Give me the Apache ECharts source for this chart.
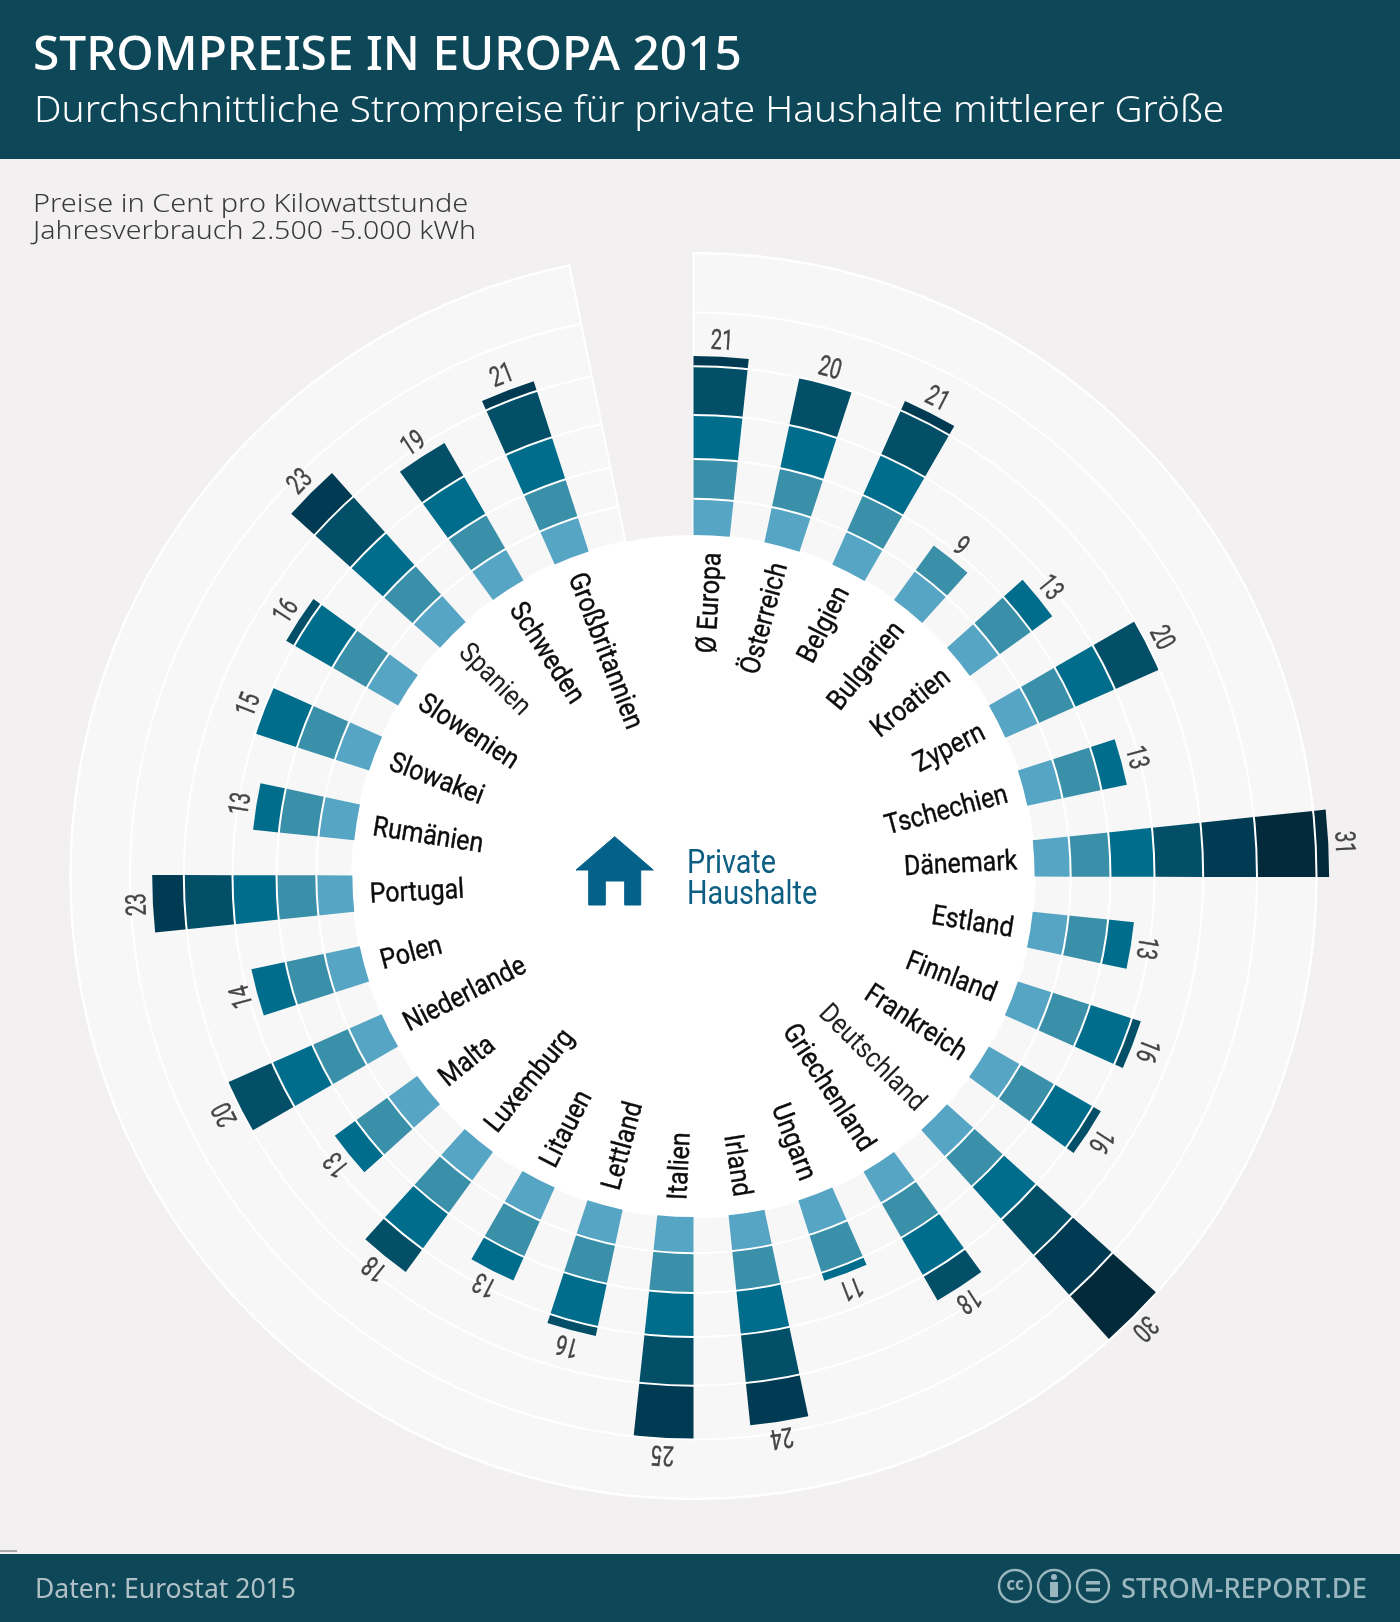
<!DOCTYPE html>
<html lang="de">
<head>
<meta charset="utf-8">
<title>Strompreise in Europa 2015</title>
<style>
  html, body { margin: 0; padding: 0; background: #f2f0f1; }
  #chart { width: 1400px; height: 1622px; }
</style>
<script src="https://cdn.jsdelivr.net/npm/echarts@6/dist/echarts.min.js"></script>
</head>
<body>
<div id="chart"></div>
<script>
// Haushaltsstrompreise in Cent pro kWh
const countries = ['Ø Europa', 'Österreich', 'Belgien', 'Bulgarien', 'Kroatien', 'Zypern', 'Tschechien',
  'Dänemark', 'Estland', 'Finnland', 'Frankreich', 'Deutschland', 'Griechenland', 'Ungarn', 'Irland',
  'Italien', 'Lettland', 'Litauen', 'Luxemburg', 'Malta', 'Niederlande', 'Polen', 'Portugal', 'Rumänien',
  'Slowakei', 'Slowenien', 'Spanien', 'Schweden', 'Großbritannien'];
const prices = [21, 20, 21, 9, 13, 20, 13, 31, 13, 16, 16, 30, 18, 11, 24, 25, 16, 13, 18, 13, 20, 14, 23, 13, 15, 16, 23, 19, 21];
const thinLabels = ['Spanien', 'Deutschland'];
const ringValues = [5, 10, 15, 20, 25, 30];
const bandColors = ['#56a5c4', '#3a8fa9', '#006d8c', '#034f68', '#003b53', '#022a3b', '#022a3b'];

const BAND = 5;            // Cent je Farbstufe
const GROWTH = 1.1056;     // Radius-Faktor je Farbstufe
const SLOT = 12;           // Grad je Land
const BAR_SWEEP = 6.1;     // Grad je Balken
const TRACK_END = 348.5;   // Ende des hinterlegten Kreissegments
const TRACK_TOP = 30;      // Cent am Aussenrand

const INK = 'Roboto, sans-serif';
const SANS = '"Noto Sans", sans-serif';

// Exponentielle Radialskala: gleiche Cent-Abstaende ergeben gleiche Radiusverhaeltnisse
const radial = cents => Math.pow(GROWTH, cents / BAND);

const segments = [];
prices.forEach((price, i) => {
  for (let from = 0, band = 0; from < price; from += BAND, band++) {
    segments.push([i, from, Math.min(from + BAND, price), band]);
  }
});

function sector(api, fromCents, toCents, fromDeg, toDeg, style) {
  const inner = api.coord([radial(fromCents), fromDeg]);
  const outer = api.coord([radial(toCents), toDeg]);
  const sys = api.coord([0, 0]);
  return {
    type: 'sector',
    shape: { cx: sys[0], cy: sys[1], r0: inner[2], r: outer[2],
             startAngle: -inner[3], endAngle: -outer[3], clockwise: true },
    style
  };
}

function polarText(api, cents, deg, offset, text, style, rotationDeg, scaleX) {
  const p = api.coord([radial(cents), deg]);
  const sys = api.coord([0, 0]);
  const r = p[2] + offset;
  const a = p[3];
  return {
    type: 'text',
    x: sys[0] + r * Math.cos(a),
    y: sys[1] - r * Math.sin(a),
    rotation: rotationDeg * Math.PI / 180,
    scaleX,
    style: Object.assign({ text }, style)
  };
}

const series = [
  {
    name: 'Hintergrund', type: 'custom', coordinateSystem: 'polar', silent: true, data: [[0, 0]],
    renderItem: (params, api) => sector(api, 0, TRACK_TOP, 0, TRACK_END,
      { fill: '#f7f7f7', stroke: '#ffffff', lineWidth: 2 })
  },
  {
    name: 'Scheibe', type: 'custom', coordinateSystem: 'polar', silent: true, data: [[0, 0]],
    renderItem: (params, api) => {
      const edge = api.coord([radial(0), 0]);
      const sys = api.coord([0, 0]);
      return { type: 'circle', shape: { cx: sys[0], cy: sys[1], r: edge[2] }, style: { fill: '#ffffff' } };
    }
  },
  {
    name: 'Preise', type: 'custom', coordinateSystem: 'polar', silent: true, data: segments,
    renderItem: (params, api) => {
      const start = api.value(0) * SLOT;
      return sector(api, api.value(1), api.value(2), start, start + BAR_SWEEP,
        { fill: bandColors[api.value(3)] });
    }
  },
  {
    name: 'Ringe', type: 'custom', coordinateSystem: 'polar', silent: true, data: ringValues.map(v => [v, 0]),
    renderItem: (params, api) => {
      const a = api.coord([radial(api.value(0)), 0]);
      const b = api.coord([radial(api.value(0)), TRACK_END]);
      const sys = api.coord([0, 0]);
      return {
        type: 'arc',
        shape: { cx: sys[0], cy: sys[1], r: a[2], startAngle: -a[3], endAngle: -b[3], clockwise: true },
        style: { stroke: '#ffffff', lineWidth: 2, fill: null }
      };
    }
  },
  {
    name: 'Laender', type: 'custom', coordinateSystem: 'polar', silent: true,
    data: countries.map((c, i) => [i, 0]),
    renderItem: (params, api) => {
      const i = params.dataIndex;
      const deg = i * SLOT + BAR_SWEEP / 2;
      const right = deg < 180;
      const thin = thinLabels.includes(countries[i]);
      return polarText(api, 0, deg, -17, countries[i], {
        font: '28px ' + INK,
        fill: thin ? '#222222' : '#0c0c0c',
        stroke: thin ? null : '#0c0c0c',
        lineWidth: thin ? 0 : 0.4,
        y: 3,
        align: right ? 'right' : 'left',
        verticalAlign: 'middle'
      }, right ? 90 - deg : 270 - deg, 0.89);
    }
  },
  {
    name: 'Werte', type: 'custom', coordinateSystem: 'polar', silent: true,
    data: prices.map((p, i) => [i, p]),
    renderItem: (params, api) => {
      const deg = api.value(0) * SLOT + BAR_SWEEP / 2;
      return polarText(api, api.value(1), deg, 14.5, String(api.value(1)), {
        font: '28px ' + INK,
        fill: '#444444',
        stroke: '#444444',
        lineWidth: 0.4,
        align: 'center',
        verticalAlign: 'middle'
      }, -deg, 0.72);
    }
  }
];

function label(x, y, text, font, fill, scaleX) {
  return { type: 'text', x, y, z: 20, scaleX: scaleX || 1,
           style: { text, font, fill, align: 'left', verticalAlign: 'middle' } };
}

const FOOT = '#9ab6bf';
const graphicElements = [
  { type: 'rect', shape: { x: 0, y: 0, width: 1400, height: 159 }, style: { fill: '#0e4858' } },
  { type: 'rect', shape: { x: 0, y: 1554, width: 1400, height: 68 }, style: { fill: '#0e4858' } },
  { type: 'rect', shape: { x: 0, y: 1550, width: 17, height: 2 }, style: { fill: '#aaaaaa' } },

  label(33, 56, 'STROMPREISE IN EUROPA 2015', '500 47.8px ' + SANS, '#ffffff'),
  label(34, 111, 'Durchschnittliche Strompreise für private Haushalte mittlerer Größe', '300 37px ' + SANS, '#ffffff', 1.047),
  label(33, 205, 'Preise in Cent pro Kilowattstunde', '300 26px ' + SANS, '#3a3a3a', 1.113),
  label(33, 232, 'Jahresverbrauch 2.500 -5.000 kWh', '300 26px ' + SANS, '#3a3a3a', 1.098),
  label(35, 1590, 'Daten: Eurostat 2015', '26.5px ' + SANS, '#b0c0c6'),
  label(1121, 1590, 'STROM-REPORT.DE', '500 27.2px ' + SANS, FOOT),

  { type: 'polygon', z: 20, shape: { points: [[614.7, 836.7], [653.3, 870], [640.7, 870], [640.7, 905], [624.7, 905], [624.7, 881],
      [605.3, 881], [605.3, 905], [588.7, 905], [588.7, 870], [576, 870]] },
    style: { fill: '#04618a', stroke: '#04618a', lineWidth: 1, lineJoin: 'round' } },
  label(687, 865, 'Private', '33.5px ' + INK, '#0c5e83', 0.86),
  label(687, 896, 'Haushalte', '33.5px ' + INK, '#0c5e83', 0.86),

  { type: 'circle', shape: { cx: 1015, cy: 1586, r: 16 }, style: { fill: null, stroke: FOOT, lineWidth: 2.4 } },
  { type: 'circle', shape: { cx: 1054, cy: 1586, r: 16 }, style: { fill: null, stroke: FOOT, lineWidth: 2.4 } },
  { type: 'circle', shape: { cx: 1093, cy: 1586, r: 16 }, style: { fill: null, stroke: FOOT, lineWidth: 2.4 } },
  { type: 'text', x: 1015, y: 1585, style: { text: 'cc', font: 'bold 17px ' + SANS, fill: FOOT, align: 'center', verticalAlign: 'middle' } },
  { type: 'circle', shape: { cx: 1054, cy: 1577, r: 3 }, style: { fill: FOOT } },
  { type: 'rect', shape: { x: 1050, y: 1582, width: 8, height: 15 }, style: { fill: FOOT } },
  { type: 'rect', shape: { x: 1086, y: 1581, width: 14, height: 3.5 }, style: { fill: FOOT } },
  { type: 'rect', shape: { x: 1086, y: 1588, width: 14, height: 3.5 }, style: { fill: FOOT } }
];

const chart = echarts.init(document.getElementById('chart'), null, { renderer: 'canvas' });
chart.setOption({
  animation: false,
  backgroundColor: '#f2f0f1',
  polar: { center: [693.5, 876], radius: [0, 623] },
  angleAxis: { type: 'value', min: 0, max: 360, startAngle: 90, clockwise: true, show: false },
  radiusAxis: { type: 'value', min: 0, max: radial(TRACK_TOP), show: false },
  graphic: { elements: graphicElements },
  series
});
</script>
</body>
</html>
